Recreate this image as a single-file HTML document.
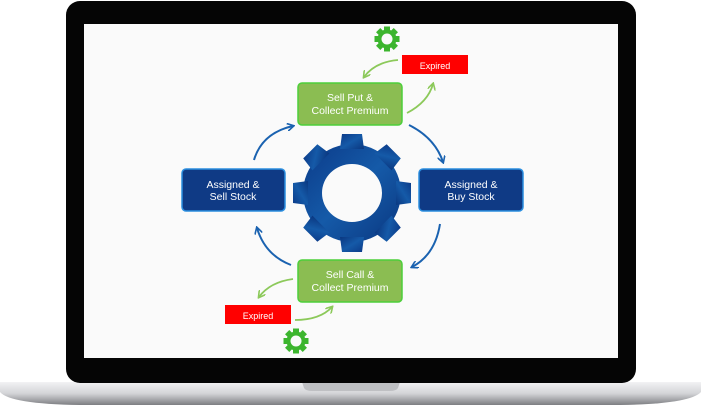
<!DOCTYPE html>
<html><head><style>html,body{margin:0;padding:0;background:#fff;width:701px;height:405px;overflow:hidden}</style></head>
<body>
<svg width="701" height="405" viewBox="0 0 701 405" xmlns="http://www.w3.org/2000/svg" font-family="Liberation Sans, sans-serif">
<defs>
<linearGradient id="base" x1="0" y1="0" x2="0" y2="1"><stop offset="0" stop-color="#f2f2f4"/><stop offset="0.5" stop-color="#d3d4d7"/><stop offset="1" stop-color="#7d7e82"/></linearGradient>
<linearGradient id="gear" x1="0" y1="0" x2="1" y2="1"><stop offset="0" stop-color="#0b3a88"/><stop offset="0.5" stop-color="#155aa8"/><stop offset="1" stop-color="#0a3780"/></linearGradient>
<marker id="ab" markerWidth="8" markerHeight="8" refX="6" refY="4" orient="auto" markerUnits="userSpaceOnUse"><path d="M0,0 L7,4 L0,8" fill="none" stroke="#1a62b0" stroke-width="1.6"/></marker>
<marker id="ag" markerWidth="8" markerHeight="8" refX="6" refY="4" orient="auto" markerUnits="userSpaceOnUse"><path d="M0,0 L7,4 L0,8" fill="none" stroke="#8cc95a" stroke-width="1.6"/></marker>
</defs>
<path d="M0,382 L701,382 L701,392 Q690,404 620,405 L80,405 Q10,404 0,392 Z" fill="url(#base)"/>
<path d="M302,382 L400,382 L398,388 Q396,391 390,391 L312,391 Q306,391 304,388 Z" fill="#bfc0c3"/>
<rect x="66" y="1" width="570" height="382" rx="14" fill="#050505"/>
<rect x="84" y="24" width="534" height="334" fill="#fafafa"/>
<g transform="translate(352,193)">
<g fill="url(#gear)">
<circle r="49"/>
<g id="t"><path d="M-12,-44 L-10,-59 L10,-59 L12,-44 Z"/></g>
<use href="#t" transform="rotate(45)"/><use href="#t" transform="rotate(90)"/><use href="#t" transform="rotate(135)"/>
<use href="#t" transform="rotate(180)"/><use href="#t" transform="rotate(225)"/><use href="#t" transform="rotate(270)"/><use href="#t" transform="rotate(315)"/>
</g>
<ellipse cx="0" cy="0" rx="30" ry="29" fill="#fafafa"/>
</g>
<g id="sg" transform="translate(387,39)">
<circle r="9.5" fill="#3cb52e"/>
<g fill="#3cb52e"><rect x="-3" y="-12.5" width="6" height="6"/><rect x="-3" y="6.5" width="6" height="6"/><rect x="-12.5" y="-3" width="6" height="6"/><rect x="6.5" y="-3" width="6" height="6"/>
<rect x="-3" y="-12.5" width="6" height="6" transform="rotate(45)"/><rect x="-3" y="-12.5" width="6" height="6" transform="rotate(135)"/><rect x="-3" y="-12.5" width="6" height="6" transform="rotate(225)"/><rect x="-3" y="-12.5" width="6" height="6" transform="rotate(315)"/></g>
<circle r="5.5" fill="#fafafa"/>
</g>
<use href="#sg" transform="translate(-91,302)"/>
<g font-size="10.5" text-anchor="middle">
<rect x="298" y="83" width="104" height="42" rx="4" fill="#8bbd52" stroke="#4ccf3a" stroke-width="1.5"/>
<text x="350" y="101" fill="#fff">Sell Put &amp;</text><text x="350" y="114" fill="#fff">Collect Premium</text>
<rect x="298" y="260" width="104" height="42" rx="4" fill="#8bbd52" stroke="#4ccf3a" stroke-width="1.5"/>
<text x="350" y="278" fill="#fff">Sell Call &amp;</text><text x="350" y="291" fill="#fff">Collect Premium</text>
<rect x="182" y="169" width="103" height="42" rx="4" fill="#0f3a85" stroke="#2a8ee0" stroke-width="1.5"/>
<text x="233" y="188" fill="#fff">Assigned &amp;</text><text x="233" y="200" fill="#fff">Sell Stock</text>
<rect x="419" y="169" width="104" height="42" rx="4" fill="#0f3a85" stroke="#2a8ee0" stroke-width="1.5"/>
<text x="471" y="188" fill="#fff">Assigned &amp;</text><text x="471" y="200" fill="#fff">Buy Stock</text>
<rect x="402" y="55" width="66" height="19" fill="#f00"/><text x="435" y="69" fill="#fff" font-size="9">Expired</text>
<rect x="225" y="305" width="66" height="19" fill="#f00"/><text x="258" y="319" fill="#fff" font-size="9">Expired</text>
</g>
<g fill="none" stroke="#1a62b0" stroke-width="2" marker-end="url(#ab)">
<path d="M409,125 Q435,138 443,162"/>
<path d="M440,224 Q435,255 412,267"/>
<path d="M291,265 Q265,255 257,228"/>
<path d="M254,160 Q262,133 293,126"/>
</g>
<g fill="none" stroke="#8cc95a" stroke-width="1.8" marker-end="url(#ag)">
<path d="M398,60 Q375,62 364,77"/>
<path d="M407,113 Q428,102 433,84"/>
<path d="M293,279 Q270,282 259,297"/>
<path d="M295,320 Q320,320 332,307"/>
</g>
</svg>
</body></html>
